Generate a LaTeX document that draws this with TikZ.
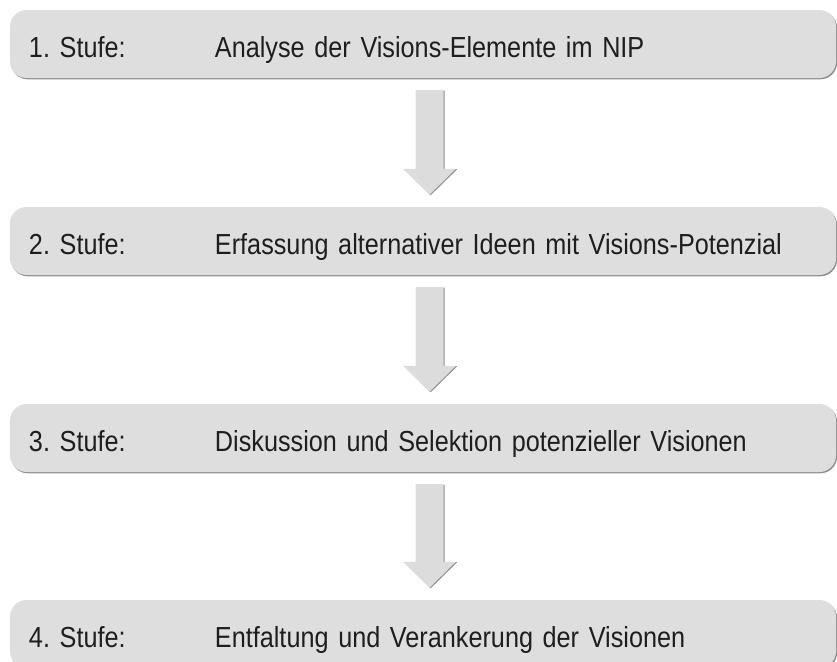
\documentclass[tikz,border=0pt]{standalone}
\usepackage{fontspec}
\setmainfont[FakeStretch=0.87]{Liberation Sans}
\usetikzlibrary{calc,shadows}
\definecolor{boxgray}{HTML}{DEDEDE}
\definecolor{arrowgray}{HTML}{DCDCDC}
\definecolor{shadegray}{HTML}{8E8E8E}
\definecolor{inkgray}{HTML}{1E1E1E}
\newcommand{\stufe}[2]{\makebox[5.58cm][l]{#1}#2}
\frenchspacing
\begin{document}
\begin{tikzpicture}[x=0.03cm, y=-0.03cm, line join=round,
	stage/.style={rectangle, rounded corners=0.5cm, fill=boxgray, text=inkgray,
		drop shadow={shadow xshift=0.9pt, shadow yshift=-1.1pt, fill=shadegray, opacity=1},
		text width=23.64cm, inner xsep=0.57cm, inner ysep=0pt, minimum height=2.04cm,
		text height=0.9cm, text depth=0.12cm, align=left,
		font=\fontsize{24.75pt}{28pt}\selectfont},
	flow/.style={fill=arrowgray,
		drop shadow={shadow xshift=1pt, shadow yshift=-0.4pt, fill=shadegray, opacity=1}}]
	\useasboundingbox (0,0) rectangle (837,661);
	\clip (0,0) rectangle (837,661);
	\node[stage] (s1) at (423,44) {\stufe{1. Stufe:}{Analyse der Visions-Elemente im NIP}};
	\node[stage] (s2) at (423,241) {\stufe{2. Stufe:}{Erfassung alternativer Ideen mit Visions-Potenzial}};
	\node[stage] (s3) at (423,438) {\stufe{3. Stufe:}{Diskussion und Selektion potenzieller Visionen}};
	\node[stage] (s4) at (423,634) {\stufe{4. Stufe:}{Entfaltung und Verankerung der Visionen}};
	% block arrows between the stages
	\foreach \a/\b in {s1/s2, s2/s3, s3/s4}{
		\coordinate (top) at ($(\a.south)+(6.5,12)$);
		\coordinate (tip) at ($(\b.north)+(6.5,-12)$);
		\fill[flow] (tip) -- ++(26.5,-26) -- ++(-12.5,0) |- ($(top)+(-14,0)$)
			|- ($(tip)+(-26.5,-26)$) -- cycle;
	}
\end{tikzpicture}
\end{document}
